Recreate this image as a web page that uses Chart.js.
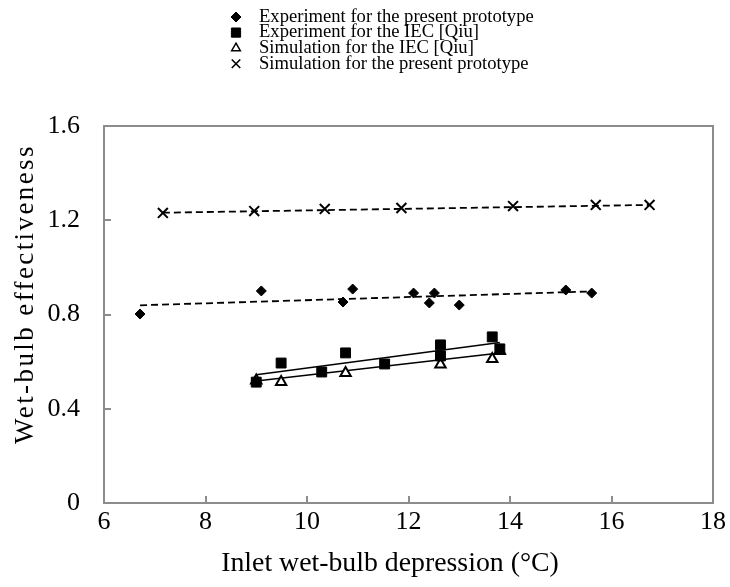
<!DOCTYPE html>
<html>
<head>
<meta charset="utf-8">
<script src="https://cdn.jsdelivr.net/npm/chart.js@4/dist/chart.umd.min.js"></script>
<style>
  html, body { margin: 0; padding: 0; background: #fff; }
  #wrap { width: 730px; height: 587px; }
</style>
</head>
<body>
<div id="wrap"><canvas id="c" width="730" height="587"></canvas></div>
<script>
// ---- Data ----
const legendLabels = [
  'Experiment for the present prototype',
  'Experiment for the IEC [Qiu]',
  'Simulation for the IEC [Qiu]',
  'Simulation for the present prototype'
];
const expProtoX = [6.71, 9.10, 10.71, 10.90, 12.10, 12.41, 12.51, 13.00, 15.10, 15.61];
const expProtoY = [0.802, 0.900, 0.853, 0.908, 0.891, 0.849, 0.891, 0.840, 0.904, 0.891];
const expIecX = [9.00, 9.49, 10.29, 10.76, 11.53, 12.63, 12.63, 13.65, 13.80];
const expIecY = [0.513, 0.594, 0.556, 0.637, 0.590, 0.671, 0.624, 0.705, 0.654];
const simIecX = [9.00, 9.49, 10.76, 12.63, 13.65, 13.80];
const simIecY = [0.520, 0.513, 0.552, 0.588, 0.611, 0.645];
const simProtoX = [7.16, 8.96, 10.35, 11.86, 14.06, 15.69, 16.75];
const simProtoY = [1.231, 1.239, 1.248, 1.252, 1.260, 1.265, 1.265];
// trend lines (end values)
const trendExpProtoX = [6.71, 15.61];
const trendExpProtoY = [0.839, 0.898];
const trendExpIecX = [9.00, 13.80];
const trendExpIecY = [0.544, 0.681];
const trendSimIecX = [9.00, 13.80];
const trendSimIecY = [0.518, 0.637];
const trendSimProtoX = [7.16, 16.75];
const trendSimProtoY = [1.232, 1.265];
// axes
const xTicks = [6, 8, 10, 12, 14, 16, 18];
const yTicks = [0, 0.4, 0.8, 1.2, 1.6];
const xTitle = 'Inlet wet-bulb depression (°C)';
const yTitle = 'Wet-bulb effectiveness';

const pts = (xs, ys) => xs.map((x, i) => ({ x: x, y: ys[i] }));
const SERIF = '"Liberation Serif", "Times New Roman", serif';

const markerDefs = [
  { pointStyle: 'rectRot', radius: 5, bg: '#000', border: '#000', bw: 1 },
  { pointStyle: 'rect', radius: 7, bg: '#000', border: '#000', bw: 1 },
  { pointStyle: 'triangle', radius: 6, bg: '#fff', border: '#000', bw: 2 },
  { pointStyle: 'crossRot', radius: 7, bg: '#000', border: '#000', bw: 2 }
];
const legendMarkers = [
  { radius: 5, bw: 1 },
  { radius: 6.5, bw: 1 },
  { radius: 5, bw: 1.5 },
  { radius: 6, bw: 1.6 }
];

function scatterDs(label, data, m) {
  return {
    label: label, data: data, showLine: false,
    pointStyle: m.pointStyle, pointRadius: m.radius, pointHoverRadius: m.radius,
    pointBackgroundColor: m.bg, pointBorderColor: m.border, pointBorderWidth: m.bw
  };
}
function trendDs(data, dashed) {
  return {
    label: 'trend', data: data, showLine: true, pointRadius: 0, pointHoverRadius: 0,
    borderColor: '#000', borderWidth: dashed ? 1.8 : 1.5,
    borderDash: dashed ? [7, 4] : [], fill: false
  };
}

const datasets = [
  scatterDs(legendLabels[0], pts(expProtoX, expProtoY), markerDefs[0]),
  scatterDs(legendLabels[1], pts(expIecX, expIecY), markerDefs[1]),
  scatterDs(legendLabels[2], pts(simIecX, simIecY), markerDefs[2]),
  scatterDs(legendLabels[3], pts(simProtoX, simProtoY), markerDefs[3]),
  trendDs(pts(trendExpProtoX, trendExpProtoY), true),
  trendDs(pts(trendExpIecX, trendExpIecY), false),
  trendDs(pts(trendSimIecX, trendSimIecY), false),
  trendDs(pts(trendSimProtoX, trendSimProtoY), true)
];

// Frame + inward tick marks
const framePlugin = {
  id: 'frame',
  afterDatasetsDraw(chart) {
    const { ctx, chartArea: a, scales } = chart;
    ctx.save();
    ctx.strokeStyle = '#8c8c8c';
    ctx.lineWidth = 2;
    ctx.strokeRect(a.left, a.top, a.right - a.left, a.bottom - a.top);
    ctx.beginPath();
    xTicks.forEach(v => {
      const px = Math.round(scales.x.getPixelForValue(v));
      ctx.moveTo(px, a.bottom); ctx.lineTo(px, a.bottom - 7);
    });
    yTicks.forEach(v => {
      const py = Math.round(scales.y.getPixelForValue(v));
      ctx.moveTo(a.left, py); ctx.lineTo(a.left + 7, py);
    });
    ctx.stroke();
    ctx.restore();
  }
};

// Axis titles (drawn as canvas text, with the reference's loose letter spacing on the y title)
const titlePlugin = {
  id: 'axisTitles',
  afterDraw(chart) {
    const ctx = chart.ctx;
    ctx.save();
    ctx.fillStyle = '#000';
    ctx.textAlign = 'center';
    ctx.textBaseline = 'middle';
    ctx.font = '27.8px ' + SERIF;
    ctx.fillText(xTitle, 390, 564);
    ctx.translate(26, 294);
    ctx.rotate(-Math.PI / 2);
    ctx.font = '27px ' + SERIF;
    if ('letterSpacing' in ctx) ctx.letterSpacing = '2.4px';
    ctx.fillText(yTitle, 0, 0);
    ctx.restore();
  }
};

// Legend drawn in the top area
const legendPlugin = {
  id: 'customLegend',
  afterDraw(chart) {
    const ctx = chart.ctx;
    ctx.save();
    ctx.font = '18.6px ' + SERIF;
    ctx.textBaseline = 'middle';
    ctx.textAlign = 'left';
    const mx = 236, tx = 259, y0 = 17, dy = 15.6;
    legendLabels.forEach((label, i) => {
      const m = markerDefs[i];
      const lm = legendMarkers[i];
      const y = y0 + i * dy;
      ctx.fillStyle = m.bg; ctx.strokeStyle = m.border; ctx.lineWidth = lm.bw;
      Chart.helpers.drawPoint(ctx, { pointStyle: m.pointStyle, radius: lm.radius, rotation: 0, borderWidth: lm.bw }, mx, y);
      ctx.fillStyle = '#000';
      ctx.fillText(label, tx, y);
    });
    ctx.restore();
  }
};

new Chart(document.getElementById('c'), {
  type: 'scatter',
  data: { datasets: datasets },
  plugins: [framePlugin, titlePlugin, legendPlugin],
  options: {
    responsive: false,
    animation: false,
    devicePixelRatio: 1,
    layout: { padding: { top: 126, right: 14, left: 0, bottom: 0 } },
    plugins: { legend: { display: false }, tooltip: { enabled: false } },
    scales: {
      x: {
        type: 'linear', min: 6, max: 18,
        afterBuildTicks: s => { s.ticks = xTicks.map(v => ({ value: v })); },
        afterFit: s => { s.height = 84; },
        grid: { display: false, drawTicks: false },
        border: { display: false },
        ticks: { color: '#000', font: { family: SERIF, size: 26 }, padding: 4, maxRotation: 0 },
        title: { display: false }
      },
      y: {
        type: 'linear', min: 0, max: 1.6,
        afterBuildTicks: s => { s.ticks = yTicks.map(v => ({ value: v })); },
        afterFit: s => { s.width = 104; },
        grid: { display: false, drawTicks: false },
        border: { display: false },
        ticks: { color: '#000', font: { family: SERIF, size: 26 }, padding: 24,
          callback: v => String(v) },
        title: { display: false }
      }
    }
  }
});
</script>
</body>
</html>
